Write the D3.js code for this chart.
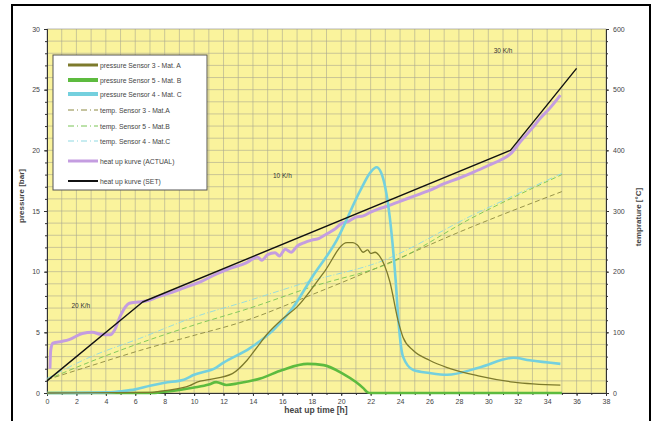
<!DOCTYPE html>
<html>
<head>
<meta charset="utf-8">
<script src="https://d3js.org/d3.v7.min.js"></script>
<style>
  body { margin: 0; background: #fff; }
  svg { font-family: "Liberation Sans", Arial, sans-serif; }
</style>
</head>
<body>
<script>
// time [h], pressure [bar]
var p3 = [[0,0],[7,0.05],[8,0.2],[9.7,0.6],[10.2,0.9],[11,1.1],[12.6,1.6],[13.6,2.7],[14.3,3.8],[15,4.9],[16,6.1],[17,7.1],[18.8,9.9],[20.4,12.4],[20.8,12.4],[21.1,12.2],[21.5,11.6],[21.8,11.8],[22,11.5],[22.3,11.6],[22.6,11.3],[23.3,9.2],[23.9,5.8],[24.2,4.6],[24.9,3.5],[26,2.7],[27.2,2.1],[29.4,1.4],[31.7,0.9],[34.9,0.65]];
var p5 = [[0,0],[7,0],[8,0.1],[9,0.25],[10,0.45],[11,0.7],[11.5,0.9],[12.2,0.66],[13,0.8],[14.5,1.2],[16,1.9],[17.7,2.4],[18.8,2.3],[20.1,1.6],[21,0.9],[21.5,0.4],[21.8,0.05],[22,0],[35,0]];
var p4 = [[0,0],[4,0.05],[5,0.15],[6,0.3],[7,0.6],[8,0.85],[9.3,1.1],[10,1.5],[11.5,2.1],[12,2.5],[13.8,3.7],[15.4,5.2],[16.7,7.0],[18,9.5],[19.7,12.6],[21.3,16.7],[22,18.2],[22.4,18.6],[22.7,18.2],[23.3,14.5],[23.7,9.3],[23.9,5.8],[24.2,3.0],[24.9,1.9],[26,1.65],[27.2,1.5],[29.4,2.1],[31.7,2.9],[32.8,2.7],[34.9,2.4]];
// time [h], temperature [°C]
var t3 = [[0,22],[3,45],[6.3,70],[10,95],[13.1,116],[18,162],[22.6,208],[28,265],[35,332]];
var t5 = [[0,22],[3,52],[6.3,82],[10,112],[13.8,140],[18,175],[23.3,214],[29,290],[35,360]];
var t4 = [[0,24],[3,60],[6.3,90],[10,125],[13.4,150],[18,185],[22.6,216],[29,294],[35,362]];
var actual = [[0.2,40],[0.25,70],[0.4,82],[1,85],[1.5,88],[2.4,98],[3.1,100],[3.6,97],[4.3,96],[4.6,104],[5,128],[5.6,148],[6.2,150],[6.8,152],[7.5,158],[8.5,166],[9.5,175],[10.5,184],[11.5,196],[12.5,206],[13.5,214],[14,221],[14.3,224],[14.6,219],[15,228],[15.5,231],[15.8,226],[16.2,237],[16.6,232],[17,242],[17.5,248],[18,252],[18.5,255],[19,262],[19.5,269],[20,279],[20.5,283],[21,290],[21.5,292],[22,298],[22.5,303],[23,307],[24,316],[25,325],[26,334],[27,345],[28,354],[29,364],[30,375],[31,386],[31.5,394],[32.2,415],[33,437],[33.5,452],[34.2,470],[34.9,491]];
var setCurve = [[0,20],[6.5,150],[31.5,400],[36,535]];

var rateLabels = [{t:2.3,c:140,text:"20 K/h"},{t:16,c:355,text:"10 K/h"},{t:31,c:560,text:"30 K/h"}];

var legendItems = [
  {name:"pressure Sensor 3 - Mat. A", color:"#7d7a2c", w:3, dash:null},
  {name:"pressure Sensor 5 - Mat. B", color:"#5dbb3f", w:4, dash:null},
  {name:"pressure Sensor 4 - Mat. C", color:"#74d0de", w:4, dash:null},
  {name:"temp. Sensor 3 - Mat.A", color:"#8b8840", w:1, dash:"6,3,1,3"},
  {name:"temp. Sensor 5 - Mat.B", color:"#78c454", w:1, dash:"6,3,1,3"},
  {name:"temp. Sensor 4 - Mat.C", color:"#8fd9e2", w:1, dash:"6,3,1,3"},
  {name:"heat up kurve (ACTUAL)", color:"#c49de0", w:3, dash:null},
  {name:"heat up kurve (SET)", color:"#111", w:2, dash:null}
];
var legendRows = [65,80,94,110,126,141,161,181];

var W = 653, H = 421;
var svg = d3.select("body").append("svg").attr("width", W).attr("height", H);

var x = d3.scaleLinear().domain([0,38]).range([47,606]);
var yP = d3.scaleLinear().domain([0,30]).range([393,29]);
var yT = d3.scaleLinear().domain([0,600]).range([393,29]);

// frame
svg.append("rect").attr("x",12).attr("y",5).attr("width",638).attr("height",430)
  .attr("fill","none").attr("stroke","#000").attr("stroke-width",2);

// plot background + grid
svg.append("rect").attr("x",x(0)).attr("y",yP(30)).attr("width",x(38)-x(0)).attr("height",yP(0)-yP(30))
  .attr("fill","#faf39c");
svg.append("g").selectAll("line").data(d3.range(1,38)).enter().append("line")
  .attr("x1",d=>x(d)).attr("x2",d=>x(d)).attr("y1",yP(0)).attr("y2",yP(30))
  .attr("stroke","#aaa890").attr("stroke-width",0.6);
svg.append("g").selectAll("line").data(d3.range(1,30)).enter().append("line")
  .attr("y1",d=>yP(d)).attr("y2",d=>yP(d)).attr("x1",x(0)).attr("x2",x(38))
  .attr("stroke","#aaa890").attr("stroke-width",0.6);
svg.append("rect").attr("x",x(0)).attr("y",yP(30)).attr("width",x(38)-x(0)).attr("height",yP(0)-yP(30))
  .attr("fill","none").attr("stroke","#888").attr("stroke-width",0.6);

// axes
function styleAxis(g) {
  g.selectAll("text").attr("fill","#444").style("font-size","7px");
  g.selectAll("line,path").attr("stroke","#333");
}
svg.append("g").attr("transform","translate("+x(0)+",0)")
  .call(d3.axisLeft(yP).tickValues(d3.range(0,31,5)).tickSize(3).tickPadding(4)).call(styleAxis);
svg.append("g").attr("transform","translate("+x(0)+",0)")
  .call(d3.axisLeft(yP).tickValues(d3.range(0,31,1)).tickSize(2).tickFormat("")).call(styleAxis);
svg.append("g").attr("transform","translate("+x(38)+",0)")
  .call(d3.axisRight(yT).tickValues(d3.range(0,601,100)).tickSize(3).tickPadding(4)).call(styleAxis);
svg.append("g").attr("transform","translate("+x(38)+",0)")
  .call(d3.axisRight(yT).tickValues(d3.range(0,601,20)).tickSize(2).tickFormat("")).call(styleAxis);
svg.append("g").attr("transform","translate(0,"+yP(0)+")")
  .call(d3.axisBottom(x).tickValues(d3.range(0,39,2)).tickSize(3).tickPadding(3)).call(styleAxis);
svg.append("g").attr("transform","translate(0,"+yP(0)+")")
  .call(d3.axisBottom(x).tickValues(d3.range(0,39,1)).tickSize(2).tickFormat("")).call(styleAxis);

// axis titles
svg.append("text").attr("transform","translate(24,196) rotate(-90)").attr("text-anchor","middle")
  .attr("fill","#444").style("font-size","8px").style("font-weight","bold").text("pressure [bar]");
svg.append("text").attr("transform","translate(641,217) rotate(-90)").attr("text-anchor","middle")
  .attr("fill","#444").style("font-size","8px").style("font-weight","bold").text("temprature [°C]");
svg.append("text").attr("x",316).attr("y",413).attr("text-anchor","middle")
  .attr("fill","#444").style("font-size","8.5px").style("font-weight","bold").text("heat up time [h]");

// curves
var lineP = d3.line().x(d=>x(d[0])).y(d=>yP(d[1])).curve(d3.curveMonotoneX);
var lineT = d3.line().x(d=>x(d[0])).y(d=>yT(d[1])).curve(d3.curveMonotoneX);
var lineTlin = d3.line().x(d=>x(d[0])).y(d=>yT(d[1]));

function draw(path, item) {
  svg.append("path").attr("d",path).attr("fill","none")
    .attr("stroke",item.color).attr("stroke-width",item.w)
    .attr("stroke-dasharray",item.dash).attr("stroke-linejoin","round");
}
draw(lineT(t3), {color:"#8b8840", w:0.9, dash:"5,3"});
draw(lineT(t5), {color:"#78c454", w:0.9, dash:"5,3"});
draw(lineT(t4), {color:"#8fd9e2", w:0.9, dash:"6,2,1,2"});
draw(lineT(actual), {color:"#c49de0", w:3, dash:null});
draw(lineP(p5), {color:"#5dbb3f", w:2.6, dash:null});
draw(lineP(p4), {color:"#74d0de", w:2.6, dash:null});
draw(lineP(p3), {color:"#7d7a2c", w:1.3, dash:null});
draw(lineTlin(setCurve), {color:"#111", w:1.4, dash:null});

// rate labels
svg.append("g").selectAll("text").data(rateLabels).enter().append("text")
  .attr("x",d=>x(d.t)).attr("y",d=>yT(d.c)).attr("text-anchor","middle")
  .attr("fill","#333").style("font-size","6.5px").text(d=>d.text);

// legend
svg.append("rect").attr("x",53).attr("y",55).attr("width",154).attr("height",135)
  .attr("fill","#fff").attr("stroke","#555").attr("stroke-width",1);
var lg = svg.append("g").selectAll("g").data(legendItems).enter().append("g")
  .attr("transform",(d,i)=>"translate(0,"+legendRows[i]+")");
lg.append("line").attr("x1",68).attr("x2",98).attr("y1",0).attr("y2",0)
  .attr("stroke",d=>d.color).attr("stroke-width",d=>d.w).attr("stroke-dasharray",d=>d.dash);
lg.append("text").attr("x",100).attr("y",2.5).attr("fill","#444").style("font-size","6.8px").text(d=>d.name);
</script>
</body>
</html>
